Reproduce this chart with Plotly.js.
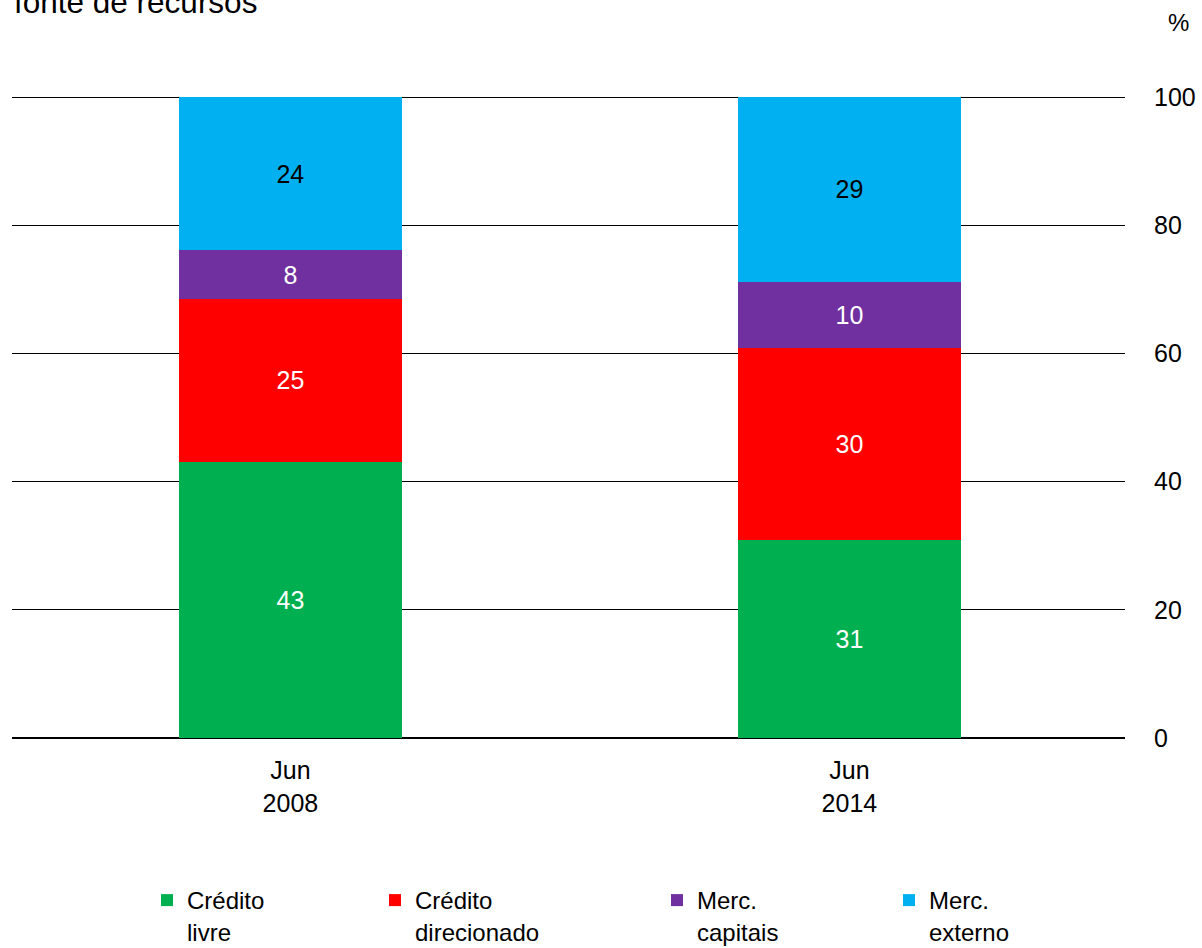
<!DOCTYPE html>
<html>
<head>
<meta charset="utf-8">
<script src="https://cdn.plot.ly/plotly-3.0.1.min.js"></script>
<style>html,body{margin:0;padding:0;background:#fff;}#chart{width:1202px;height:948px;}</style>
</head>
<body>
<div id="chart"></div>
<script>
const categories = ["Jun<br>2008", "Jun<br>2014"];
const seriesNames = ["Crédito<br>livre", "Crédito<br>direcionado", "Merc.<br>capitais", "Merc.<br>externo"];
const creditoLivre = [43.1, 30.9];
const creditoDirecionado = [25.4, 29.9];
const mercCapitais = [7.6, 10.4];
const mercExterno = [23.9, 28.8];
const yTicks = [0, 20, 40, 60, 80, 100];

const colors = ["#00B050", "#FF0000", "#7030A0", "#00B0F0"];
const textColors = ["#FFFFFF", "#FFFFFF", "#FFFFFF", "#000000"];
const allSeries = [creditoLivre, creditoDirecionado, mercCapitais, mercExterno];
const legendIds = ["legend", "legend2", "legend3", "legend4"];
const FONT = "Liberation Sans, Arial, sans-serif";

const traces = allSeries.map((vals, i) => ({
  type: "bar",
  x: categories,
  y: vals,
  name: seriesNames[i],
  legend: legendIds[i],
  marker: {color: colors[i], line: {width: 0}},
  text: vals.map(v => Math.round(v).toString()),
  textposition: "inside",
  insidetextanchor: "middle",
  textangle: 0,
  constraintext: "none",
  textfont: {family: FONT, size: 25, color: textColors[i]},
  hoverinfo: "skip"
}));

const legendX = [147, 375, 657, 889];
const legendBase = {
  orientation: "v",
  xref: "container", yref: "container",
  xanchor: "left", yanchor: "top",
  y: 1 - 878 / 948,
  valign: "top",
  bgcolor: "rgba(0,0,0,0)",
  borderwidth: 0,
  font: {family: FONT, size: 24, color: "#000"}
};

const layout = {
  width: 1202, height: 948,
  margin: {l: 12, r: 77, t: 96, b: 210, pad: 0, autoexpand: false},
  paper_bgcolor: "#fff", plot_bgcolor: "#fff",
  font: {family: FONT, size: 25, color: "#000"},
  barmode: "stack",
  bargap: 0.6,
  showlegend: true,
  xaxis: {
    type: "category",
    range: [-0.498, 1.493],
    showgrid: false, zeroline: false, showline: false,
    ticks: "", ticklabelstandoff: 15,
    tickfont: {family: FONT, size: 25, color: "#000"},
    automargin: false,
    fixedrange: true
  },
  yaxis: {
    side: "right",
    range: [0, 100.16],
    tickvals: yTicks,
    ticktext: yTicks.map(String),
    showgrid: true, gridcolor: "#000", gridwidth: 1,
    zeroline: true, zerolinecolor: "#000", zerolinewidth: 2,
    showline: false, ticks: "",
    ticklabelstandoff: 28,
    tickfont: {family: FONT, size: 25, color: "#000"},
    automargin: false,
    fixedrange: true
  },
  annotations: [
    {text: "fonte de recursos", xref: "paper", yref: "paper", x: 0, y: 1 + (96 - 22) / 642,
     xanchor: "left", yanchor: "bottom", showarrow: false, font: {family: FONT, size: 31.5, color: "#000"}},
    {text: "%", xref: "paper", yref: "paper", x: 1 + (1178 - 1125) / 1113, y: 1 + (96 - 38) / 642,
     xanchor: "center", yanchor: "bottom", showarrow: false, font: {family: FONT, size: 24, color: "#000"}}
  ]
};
legendIds.forEach((id, i) => {
  layout[id] = Object.assign({}, legendBase, {x: legendX[i] / 1202});
});

Plotly.newPlot("chart", traces, layout, {displayModeBar: false, staticPlot: true});
</script>
</body>
</html>
